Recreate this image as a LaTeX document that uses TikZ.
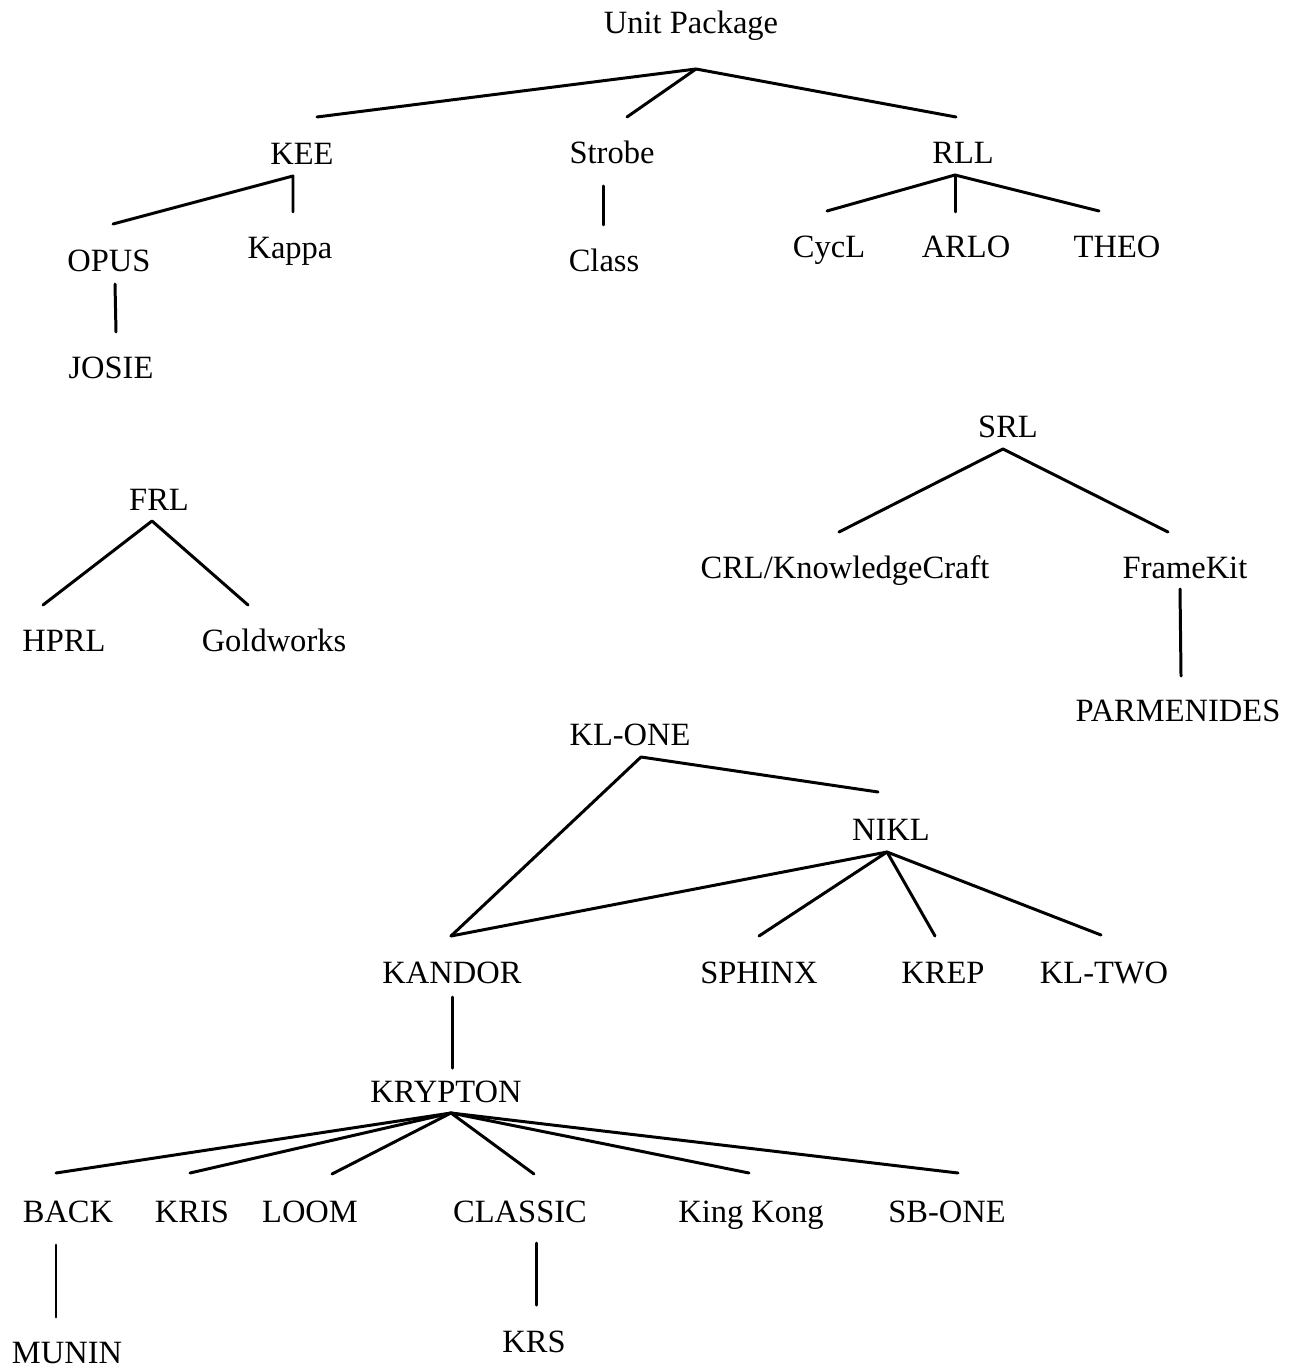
\documentclass[tikz,border=0pt]{standalone}
\usepackage{fontspec}
\setmainfont{Liberation Serif}
\begin{document}
\begin{tikzpicture}[x=0.02cm,y=-0.02cm,
  lbl/.style={anchor=base,inner sep=0pt,font=\fontsize{18.5}{20}\selectfont},
  edge/.style={line width=1.7pt,line cap=round,line join=round}]
\useasboundingbox (0,0) rectangle (1296,1371);
% labels
\node[lbl] (up) at (691,34) {Unit Package};
\node[lbl] (kee) at (302,165) {KEE};
\node[lbl] (strobe) at (612,164) {Strobe};
\node[lbl] (rll) at (963,164) {RLL};
\node[lbl] (opus) at (109,272) {OPUS};
\node[lbl] (kappa) at (290,259) {Kappa};
\node[lbl] (class) at (604,272) {Class};
\node[lbl] (cycl) at (829,258) {CycL};
\node[lbl] (arlo) at (966,258) {ARLO};
\node[lbl] (theo) at (1117,258) {THEO};
\node[lbl] (josie) at (111,378) {JOSIE};
\node[lbl] (srl) at (1008,437) {SRL};
\node[lbl] (frl) at (159,510) {FRL};
\node[lbl] (crl) at (845,578) {CRL/KnowledgeCraft};
\node[lbl] (fkit) at (1185,578) {FrameKit};
\node[lbl] (hprl) at (64,651) {HPRL};
\node[lbl] (gold) at (274,651) {Goldworks};
\node[lbl] (parm) at (1178,721) {PARMENIDES};
\node[lbl] (klone) at (630,745) {KL-ONE};
\node[lbl] (nikl) at (891,840) {NIKL};
\node[lbl] (kandor) at (452,983) {KANDOR};
\node[lbl] (sphinx) at (759,983) {SPHINX};
\node[lbl] (krep) at (943,983) {KREP};
\node[lbl] (kltwo) at (1104,983) {KL-TWO};
\node[lbl] (krypton) at (446,1102) {KRYPTON};
\node[lbl] (back) at (68,1222) {BACK};
\node[lbl] (kris) at (192,1222) {KRIS};
\node[lbl] (loom) at (310,1222) {LOOM};
\node[lbl] (classic) at (520,1222) {CLASSIC};
\node[lbl] (kingkong) at (751,1222) {King Kong};
\node[lbl] (sbone) at (947,1222) {SB-ONE};
\node[lbl] (munin) at (67,1363) {MUNIN};
\node[lbl] (krs) at (534,1352) {KRS};
% attachment points
\coordinate (upA) at (696,69);
\coordinate (keeT) at (317,117);
\coordinate (strobeT) at (627,117);
\coordinate (rllT) at (956,117);
\coordinate (keeA) at (293,176);
\coordinate (opusT) at (113,224);
\coordinate (kappaT) at (293,212);
\coordinate (strobeB) at (603,186);
\coordinate (classT) at (603,225);
\coordinate (rllA) at (955,175);
\coordinate (cyclT) at (827,211);
\coordinate (arloT) at (955,212);
\coordinate (theoT) at (1099,211);
\coordinate (opusB) at (115,284);
\coordinate (josieT) at (116,332);
\coordinate (srlA) at (1003,449);
\coordinate (crlT) at (839,532);
\coordinate (fkitT) at (1168,532);
\coordinate (frlA) at (152,521);
\coordinate (hprlT) at (43,605);
\coordinate (goldT) at (248,605);
\coordinate (fkitB) at (1180,589);
\coordinate (parmT) at (1181,676);
\coordinate (kloneA) at (641,757);
\coordinate (kandorT) at (451,936);
\coordinate (niklT) at (878,792);
\coordinate (niklA) at (887,852);
\coordinate (sphinxT) at (759,936);
\coordinate (krepT) at (935,936);
\coordinate (kltwoT) at (1101,935);
\coordinate (kandorB) at (452,997);
\coordinate (kryptonT) at (452,1068);
\coordinate (kryptonA) at (451,1113);
\coordinate (backT) at (56,1173);
\coordinate (krisT) at (190,1173);
\coordinate (loomT) at (332,1174);
\coordinate (classicT) at (534,1174);
\coordinate (kingkongT) at (749,1173);
\coordinate (sboneT) at (958,1173);
\coordinate (backB) at (56,1245);
\coordinate (muninT) at (56,1317);
\coordinate (classicB) at (536,1243);
\coordinate (krsT) at (536,1305);
% connectors
\draw[edge] (keeT) -- (upA) -- (rllT);
\draw[edge] (upA) -- (strobeT);
\draw[edge] (opusT) -- (keeA) -- (kappaT);
\draw[edge] (strobeB) -- (classT);
\draw[edge] (cyclT) -- (rllA) -- (theoT);
\draw[edge] (rllA) -- (arloT);
\draw[edge] (opusB) -- (josieT);
\draw[edge] (crlT) -- (srlA) -- (fkitT);
\draw[edge] (hprlT) -- (frlA) -- (goldT);
\draw[edge] (fkitB) -- (parmT);
\draw[edge] (kandorT) -- (kloneA) -- (niklT);
\draw[edge] (kandorT) -- (niklA);
\draw[edge] (niklA) -- (sphinxT);
\draw[edge] (niklA) -- (krepT);
\draw[edge] (niklA) -- (kltwoT);
\draw[edge] (kandorB) -- (kryptonT);
\foreach \c in {backT,krisT,loomT,classicT,kingkongT,sboneT}
  \draw[edge] (kryptonA) -- (\c);
\draw[edge] (backB) -- (muninT);
\draw[edge] (classicB) -- (krsT);
\end{tikzpicture}
\end{document}
